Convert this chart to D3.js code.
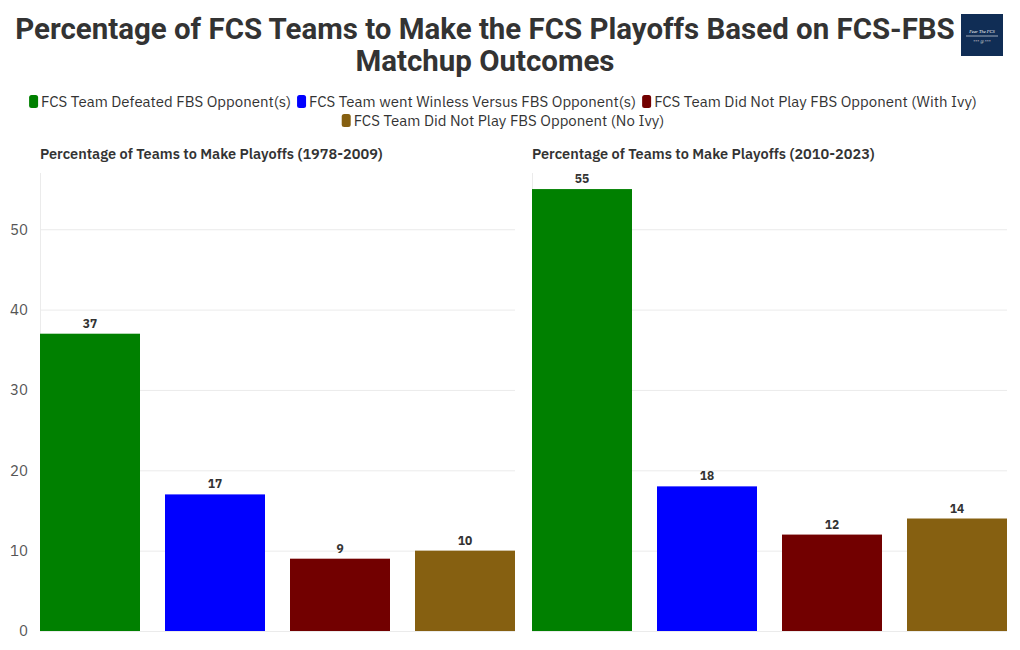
<!DOCTYPE html>
<html><head><meta charset="utf-8">
<script src="https://cdn.jsdelivr.net/npm/d3@7"></script>
<style>body{margin:0;background:#fff}svg{display:block}</style>
</head><body>
<svg id="c" width="1020" height="650"></svg>
<script>
const categories = ["FCS Team Defeated FBS Opponent(s)", "FCS Team went Winless Versus FBS Opponent(s)", "FCS Team Did Not Play FBS Opponent (With Ivy)", "FCS Team Did Not Play FBS Opponent (No Ivy)"];
const colors = ["#008000", "#0000ff", "#720000", "#866011"];
const panelTitles = ["Percentage of Teams to Make Playoffs (1978-2009)", "Percentage of Teams to Make Playoffs (2010-2023)"];
const values1978 = [37, 17, 9, 10];
const values2010 = [55, 18, 12, 14];
const yTicks = [0, 10, 20, 30, 40, 50];
const title = ["Percentage of FCS Teams to Make the FCS Playoffs Based on FCS-FBS", "Matchup Outcomes"];

const svg = d3.select("#c");
const txt = "#333";

// Title (horizontally condensed to match a condensed face)
const tg = svg.append("g");
const tt = tg.append("text").attr("x", 0).attr("y", 0).attr("text-anchor", "middle")
  .style("font-family", "Roboto,'Noto Sans',sans-serif")
  .style("font-weight", "bold").style("font-size", "30px").attr("fill", txt);
tt.selectAll("tspan").data(title).join("tspan")
  .attr("x", 0).attr("dy", (d, i) => i ? 32 : 0).text(d => d);
const w1 = tt.select("tspan").node().getComputedTextLength();
const sx = 940 / w1;
tg.attr("transform", `translate(485,39) scale(${sx},1)`);

// Logo
const logo = svg.append("g").attr("transform", "translate(961,14)");
logo.append("rect").attr("width", 42).attr("height", 42).attr("fill", "#102d55");
logo.append("text").attr("x", 21).attr("y", 19).attr("text-anchor", "middle")
  .style("font-family", "serif").style("font-size", "4.5px").style("font-style", "italic").attr("fill", "#fff").text("Fear The FCS");
logo.append("line").attr("x1", 5).attr("x2", 37).attr("y1", 22).attr("y2", 22).attr("stroke", "#fff").attr("stroke-width", 0.6);
logo.append("text").attr("x", 21).attr("y", 29).attr("text-anchor", "middle")
  .style("font-family", "serif").style("font-size", "4px").attr("fill", "#ddd").text("*** @ ***");

// Legend
const legendFont = "'IBM Plex Sans','Noto Sans','Open Sans',sans-serif";
const lg = svg.append("g");
const rows = [[0, 1, 2], [3]];
const rowY = [101, 120];
rows.forEach((row, ri) => {
  const items = row.map(i => {
    const g = lg.append("g");
    g.append("rect").attr("x", 0).attr("y", -6).attr("width", 9).attr("height", 13).attr("rx", 2.5).attr("fill", colors[i]);
    const t = g.append("text").attr("x", 12).attr("y", 5.5).style("font-family", legendFont).style("font-size", "15px").attr("fill", txt).text(categories[i]);
    const w = 12 + t.node().getComputedTextLength();
    return {g, w};
  });
  const gap = 6;
  const total = d3.sum(items, d => d.w) + gap * (items.length - 1);
  let x = 503 - total / 2;
  items.forEach(it => { it.g.attr("transform", `translate(${x},${rowY[ri]})`); x += it.w + gap; });
});

// Panels
const y = d3.scaleLinear().domain([0, 57]).range([631, 173]);
const panels = [{x0: 40, x1: 515, vals: values1978, axis: true}, {x0: 532, x1: 1007, vals: values2010, axis: false}];
const tickFont = "'IBM Plex Sans','Noto Sans','Open Sans',sans-serif";

panels.forEach((p, pi) => {
  const g = svg.append("g");
  const x = d3.scaleBand().domain(categories).range([p.x0, p.x1]).paddingInner(0.2).paddingOuter(0);
  g.append("g").selectAll("line").data(yTicks.filter(d => d > 0)).join("line")
    .attr("x1", p.x0).attr("x2", p.x1).attr("y1", d => y(d) + 0.5).attr("y2", d => y(d) + 0.5)
    .attr("stroke", "#ebebeb").attr("stroke-width", 1);
  g.append("line").attr("x1", p.x0 + 0.5).attr("x2", p.x0 + 0.5).attr("y1", 173).attr("y2", 631).attr("stroke", "#ebebeb");
  g.append("line").attr("x1", p.x0).attr("x2", p.x1).attr("y1", 631.5).attr("y2", 631.5).attr("stroke", "#ebebeb");
  if (p.axis) {
    const ax = d3.axisLeft(y).tickValues(yTicks).tickSize(0).tickPadding(12);
    const a = g.append("g").attr("transform", `translate(${p.x0},0)`).call(ax);
    a.select(".domain").remove();
    a.selectAll("text").style("font-family", tickFont).style("font-size", "15px").attr("fill", "#555");
  }
  g.append("g").selectAll("rect").data(p.vals).join("rect")
    .attr("x", (d, i) => x(categories[i])).attr("width", x.bandwidth())
    .attr("y", d => y(d)).attr("height", d => y(0) - y(d)).attr("fill", (d, i) => colors[i]);
  g.append("g").selectAll("text").data(p.vals).join("text")
    .attr("x", (d, i) => x(categories[i]) + x.bandwidth() / 2).attr("y", d => y(d) - 6)
    .attr("text-anchor", "middle").style("font-family", tickFont).style("font-size", "12px").style("font-weight", "bold")
    .attr("fill", txt).text(d => d);
  svg.append("text").attr("x", p.x0).attr("y", 159).style("font-family", tickFont).style("font-size", "14.5px")
    .style("font-weight", "600").attr("fill", txt).text(panelTitles[pi]);
});
</script>
</body></html>
